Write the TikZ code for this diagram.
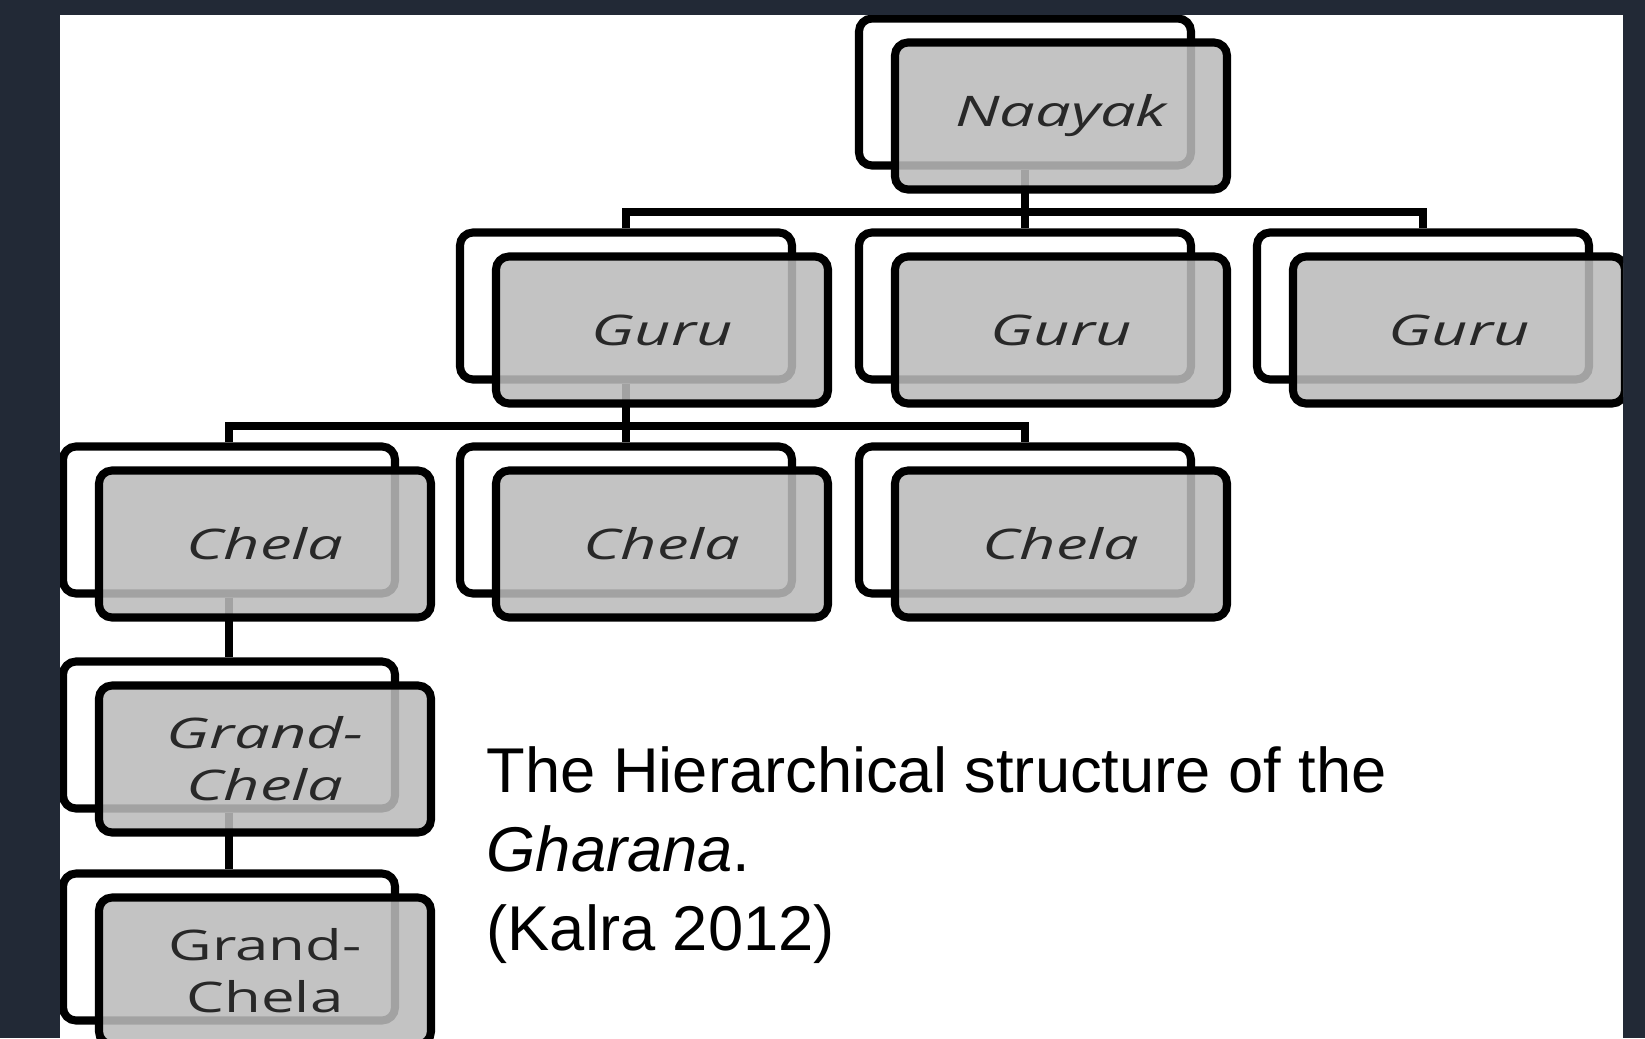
\documentclass[tikz,border=0pt]{standalone}
\usepackage{fontspec}
\setmainfont{Liberation Sans}
\newfontfamily\boxfont[FakeStretch=1.5]{Open Sans}
\newfontfamily\boxfontup[FakeStretch=1.42]{Open Sans}
\usetikzlibrary{positioning}
\definecolor{slate}{RGB}{34,41,54}
\definecolor{boxgray}{RGB}{187,187,187}
\definecolor{inkgray}{RGB}{40,40,40}

\begin{document}
\begin{tikzpicture}[
    backbox/.style={rectangle, draw, line width=2.3pt, rounded corners=0.13cm, fill=white, minimum width=3.32cm, minimum height=1.47cm},
    frontbox/.style={backbox, fill=boxgray, fill opacity=0.87, text opacity=1, xshift=0.36cm, yshift=-0.24cm, align=center, text=inkgray, font=\boxfont\itshape\fontsize{12}{14.8}\selectfont},
    upright/.style={font=\boxfontup\upshape\fontsize{12}{14.8}\selectfont},
    link/.style={line width=2.3pt},
    caption/.style={align=left, inner sep=0pt, font=\fontsize{18}{22.4}\selectfont}
]
    \useasboundingbox (0,0) rectangle (16.45,-10.38);
    \fill[slate] (0,0) rectangle (16.45,-10.38);
    \fill[white] (0.60,-0.15) rectangle (16.23,-10.38);

    \begin{scope}
    \clip (0.60,-0.15) rectangle (16.23,-10.38);

    % Back boxes
    \node[backbox] (naayak) at (10.25,-0.92) {};
    \node[backbox] (guruA) at (6.26,-3.06) {};
    \node[backbox] (guruB) at (10.25,-3.06) {};
    \node[backbox] (guruC) at (14.23,-3.06) {};
    \node[backbox] (chelaA) at (2.29,-5.20) {};
    \node[backbox] (chelaB) at (6.26,-5.20) {};
    \node[backbox] (chelaC) at (10.25,-5.20) {};
    \node[backbox] (grandA) at (2.29,-7.35) {};
    \node[backbox] (grandB) at (2.29,-9.47) {};

    % Connectors
    \coordinate (bus1) at (10.25,-2.12);
    \coordinate (bus2) at (6.26,-4.26);
    \draw[link] (naayak.south) -- (bus1);
    \draw[link] (guruA.north) |- (bus1) -| (guruC.north);
    \draw[link] (bus1) -- (guruB.north);
    \draw[link] (guruA.south) -- (bus2);
    \draw[link] (chelaA.north) |- (bus2) -| (chelaC.north);
    \draw[link] (bus2) -- (chelaB.north);
    \draw[link] (chelaA.south) -- (grandA.north);
    \draw[link] (grandA.south) -- (grandB.north);

    % Front boxes
    \node[frontbox] (naayakF) at (naayak) {Naayak};
    \node[frontbox] (guruAF) at (guruA) {Guru};
    \node[frontbox] (guruBF) at (guruB) {Guru};
    \node[frontbox] (guruCF) at (guruC) {Guru};
    \node[frontbox] (chelaAF) at (chelaA) {Chela};
    \node[frontbox] (chelaBF) at (chelaB) {Chela};
    \node[frontbox] (chelaCF) at (chelaC) {Chela};
    \node[frontbox] (grandAF) at (grandA) {Grand-\\Chela};
    \node[frontbox, upright] (grandBF) at (grandB) {Grand-\\Chela};
    \end{scope}

    % Caption
    \node[caption, anchor=base west] (cap) at (4.86,-9.50) {The Hierarchical structure of the\\\textit{Gharana}.\\(Kalra 2012)};
\end{tikzpicture}
\end{document}
